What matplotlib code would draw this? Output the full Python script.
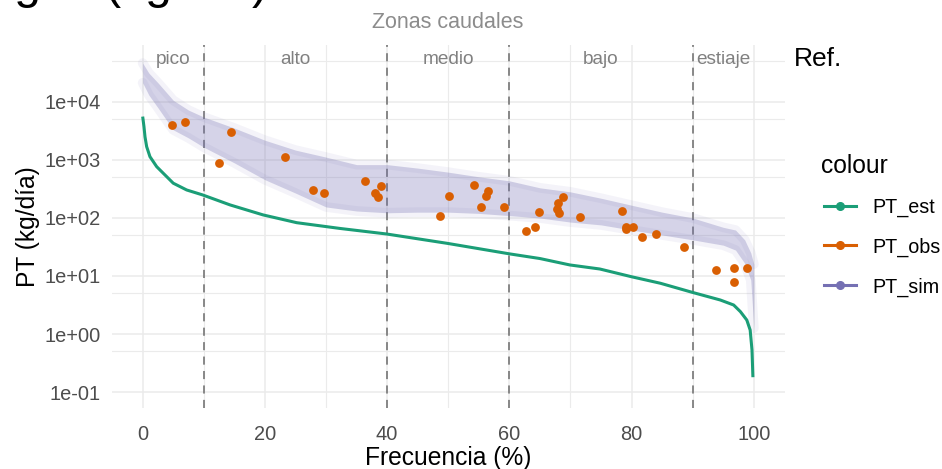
import matplotlib
matplotlib.use("Agg")
import matplotlib.pyplot as plt
from matplotlib.lines import Line2D
from matplotlib.ticker import FixedLocator, NullFormatter

plt.rcParams["font.family"] = ["Liberation Sans", "DejaVu Sans"]

# ---------------- data ----------------
# Estimated load duration curve (PT_est)
est_freq = [0, 0.21, 0.38, 0.65, 1.19, 2.29, 3.38, 5.0, 7.2, 9.8, 14.3, 19.7,
            25.2, 32.3, 39.9, 49.8, 60.1, 65.0, 69.9, 74.8, 80.0, 84.7, 90.0,
            94.5, 96.7, 97.8, 98.85, 99.4, 99.7, 99.85]
est_vals = [5600, 3760, 2510, 1700, 1140, 767, 589, 398, 304, 250, 168, 113,
            83, 66, 53, 36.6, 24, 20, 15.5, 13.2, 9.7, 7.5, 5.2,
            3.86, 3.16, 2.43, 1.74, 1.17, 0.53, 0.18]

# Observed loads (PT_obs)
obs_freq = [4.85, 6.97, 12.5, 14.5, 23.3, 27.9, 29.6, 36.3, 37.97, 38.5, 39.0,
            48.7, 50.1, 54.2, 55.3, 56.1, 56.5, 59.1, 62.8, 64.2, 64.9, 67.8,
            67.9, 68.1, 68.7, 71.6, 78.4, 79.05, 79.1, 80.2, 81.7, 84.0, 88.5,
            93.8, 96.7, 96.8, 98.96]
obs_vals = [3960, 4520, 887, 3010, 1110, 304, 273, 434, 273, 228, 361,
            108, 236, 366, 157, 242, 288, 153, 60, 69, 125, 141,
            184, 123, 230, 103, 134, 64, 71, 69, 47, 54, 31,
            12.9, 8.0, 13.7, 13.7]

# Simulated loads (PT_sim): envelope of the simulation ensemble
sim_freq = [0, 1, 2.5, 5, 7.5, 10, 15, 20, 25, 30, 35, 40, 45, 50, 55, 60, 65,
            70, 75, 80, 85, 90, 95, 97, 98.5, 99.5, 100]
sim_hi = [46800, 31600, 21400, 10700, 7240, 5500, 3550, 2190, 1480, 1120, 832,
          832, 724, 617, 513, 437, 331, 282, 219, 166, 126, 100, 69, 62, 42,
          25, 16]
sim_lo = [21400, 13200, 7940, 3310, 2400, 1660, 891, 457, 269, 155, 132, 123,
          126, 126, 120, 110, 100, 85, 76, 62, 51, 42, 34, 28, 16.6, 8.5, 1.26]

# Flow regime zones
zone_limits = [10, 40, 60, 90]
zone_names = ["pico", "alto", "medio", "bajo", "estiaje"]
zone_centers = [5, 25, 50, 75, 95]

x_ticks = [0, 20, 40, 60, 80, 100]
y_ticks = [1e-1, 1e0, 1e1, 1e2, 1e3, 1e4]
y_labels = ["1e-01", "1e+00", "1e+01", "1e+02", "1e+03", "1e+04"]
y_minor = [5e-1, 5e0, 5e1, 5e2, 5e3, 5e4]

series_names = ["PT_est", "PT_obs", "PT_sim"]
c_est, c_obs, c_sim = "#1B9E77", "#D95F02", "#7570B3"

# ---------------- figure ----------------
W, H = 942, 469
fig = plt.figure(figsize=(W / 100, H / 100), dpi=100)
ax = fig.add_axes([112 / W, 1 - 408 / H, (785 - 112) / W, (408 - 45) / H])
ax.set_yscale("log")
ax.set_xlim(-5.02, 105.1)
ax.set_ylim(0.053, 96000)

for s in ax.spines.values():
    s.set_visible(False)

grid_col = "#EBEBEB"
ax.xaxis.set_major_locator(FixedLocator(x_ticks))
ax.xaxis.set_minor_locator(FixedLocator([10, 30, 50, 70, 90]))
ax.yaxis.set_major_locator(FixedLocator(y_ticks))
ax.yaxis.set_minor_locator(FixedLocator(y_minor))
ax.yaxis.set_minor_formatter(NullFormatter())
ax.set_yticklabels(y_labels)
ax.grid(True, which="major", color=grid_col, lw=1.1, zorder=0)
ax.grid(True, which="minor", color=grid_col, lw=0.8, zorder=0)
ax.set_axisbelow(True)
ax.tick_params(which="both", length=0)
ax.tick_params(axis="x", pad=12, labelsize=14.4, labelcolor="#4D4D4D")
ax.tick_params(axis="y", pad=8, labelsize=14.4, labelcolor="#4D4D4D")

# zone separators
for z in zone_limits:
    ax.axvline(z, color="#7F7F7F", lw=1.3, ls=(0, (4.5, 3.5)), zorder=1)

# simulated ensemble band with soft edges
ax.fill_between(sim_freq, sim_lo, sim_hi, color=c_sim, alpha=0.30, lw=0, zorder=2)
for edge in (sim_lo, sim_hi):
    ax.plot(sim_freq, edge, color=c_sim, lw=7, alpha=0.08, zorder=2,
            solid_capstyle="round", solid_joinstyle="round")

# estimated curve and observations
ax.plot(est_freq, est_vals, color=c_est, lw=2.2, zorder=3, solid_capstyle="butt",
        solid_joinstyle="round")
ax.scatter(obs_freq, obs_vals, s=40, color=c_obs, lw=0, zorder=4)

# zone labels
trans = ax.get_xaxis_transform()
for xc, name in zip(zone_centers, zone_names):
    ax.text(xc, 0.9587, name, transform=trans, ha="center", va="center",
            fontsize=13.7, color="#808080", zorder=5)

# titles
fig.text(448 / W, 1 - 28.5 / H, "Zonas caudales", ha="center", va="baseline",
         fontsize=15.5, color="#8C8C8C")
fig.text(268 / W, 1 + 1.5 / H, "Cargas (kg/día)", ha="right", va="baseline",
         fontsize=34.6, color="black")
fig.text(794 / W, 1 - 66 / H, "Ref.", ha="left", va="baseline",
         fontsize=19, color="black")
fig.text(448 / W, 1 - 464.5 / H, "Frecuencia (%)", ha="center", va="baseline",
         fontsize=17.7, color="black")
fig.text(28 / W, 1 - 227 / H, "PT (kg/día)", ha="center", va="center",
         rotation=90, fontsize=17.7, color="black")

# legend
fig.text(821 / W, 1 - 172.7 / H, "colour", ha="left", va="baseline",
         fontsize=17.7, color="black")
for name, col, yc in zip(series_names, [c_est, c_obs, c_sim], [205.7, 245, 285]):
    yf = 1 - yc / H
    fig.add_artist(Line2D([824 / W, 856 / W], [yf, yf], color=col, lw=2.2,
                          transform=fig.transFigure))
    fig.add_artist(Line2D([840 / W], [yf], color=col, marker="o", ms=5.5,
                          transform=fig.transFigure))
    fig.text(872 / W, yf, name, ha="left", va="center_baseline",
             fontsize=14.2, color="black")

fig.savefig("out.png", dpi=100)
